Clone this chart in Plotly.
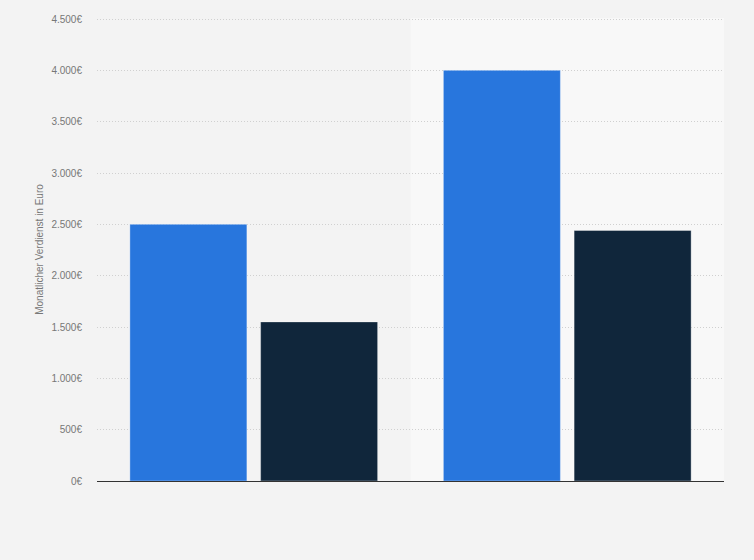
import plotly.graph_objects as go

categories = ["Gruppe 1", "Gruppe 2"]
series_a_name = "Serie 1"
series_a = [2500, 4000]
series_b_name = "Serie 2"
series_b = [1550, 2440]
y_ticks = [0, 500, 1000, 1500, 2000, 2500, 3000, 3500, 4000, 4500]
y_tick_labels = ["0€", "500€", "1.000€", "1.500€", "2.000€", "2.500€", "3.000€", "3.500€", "4.000€", "4.500€"]
y_title = "Monatlicher Verdienst in Euro"

fig = go.Figure()
fig.add_trace(go.Bar(x=categories, y=series_a, name=series_a_name,
                     marker=dict(color="#2876dd", line=dict(color="rgba(255,255,255,0.35)", width=1))))
fig.add_trace(go.Bar(x=categories, y=series_b, name=series_b_name,
                     marker=dict(color="#10263b", line=dict(color="rgba(255,255,255,0.35)", width=1))))

fig.add_shape(type="rect", xref="x", yref="paper", x0=0.5, x1=1.5, y0=0, y1=1,
              fillcolor="#f8f8f8", line=dict(width=0), layer="below")

fig.update_layout(
    width=754, height=560,
    paper_bgcolor="#f3f3f3", plot_bgcolor="#f3f3f3",
    margin=dict(l=97, r=30, t=18, b=79),
    showlegend=False,
    barmode="group", bargap=0.166, bargroupgap=0.105,
    font=dict(family="Liberation Sans, Arial, sans-serif", size=10, color="#666666"),
)
fig.update_xaxes(showticklabels=False, showgrid=False, showline=True, linecolor="#333333",
                 linewidth=1, ticks="", range=[-0.5, 1.5], zeroline=False)
fig.update_yaxes(range=[0, 4510], tickmode="array", tickvals=y_ticks, ticktext=y_tick_labels,
                 showgrid=True, gridcolor="#d0d0d0", griddash="1px,2px", gridwidth=1,
                 zeroline=False, ticks="", ticklabelstandoff=14,
                 title=dict(text=y_title, font=dict(size=10, color="#777777"), standoff=5),
                 automargin=False, tickfont=dict(size=10, color="#777777"))

fig.write_html("out.html", config={"displayModeBar": False},
               post_script="document.body.style.margin='0';document.body.style.background='#f3f3f3';")
